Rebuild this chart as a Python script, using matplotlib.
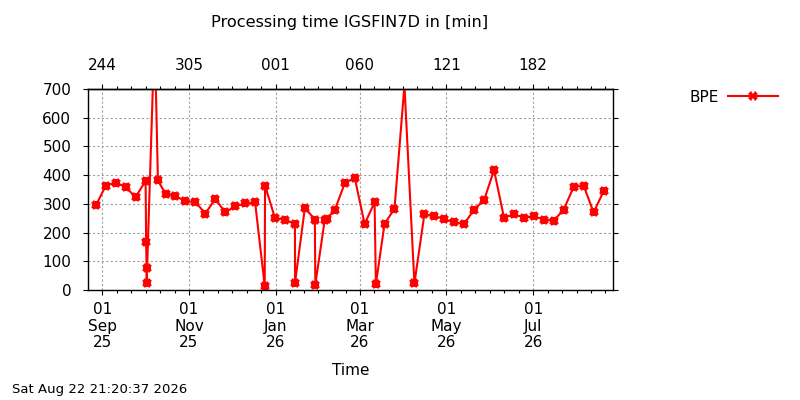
import matplotlib
matplotlib.use('Agg')
import matplotlib.pyplot as plt
import matplotlib.dates as mdates
from matplotlib.lines import Line2D
import numpy as np
import pandas as pd

plt.rcParams['font.family'] = ['DejaVu Sans']

# BPE processing time (minutes), weekly runs plus a few extra runs
times = ['2025-08-27 12:00', '2025-09-03 12:00', '2025-09-10 12:00', '2025-09-17 12:00',
         '2025-09-24 12:00', '2025-10-01 12:00', '2025-10-01 21:00', '2025-10-02 04:00',
         '2025-10-02 06:00', '2025-10-07 20:00', '2025-10-10 04:00', '2025-10-15 12:00',
         '2025-10-22 12:00', '2025-10-29 12:00', '2025-11-05 12:00', '2025-11-12 12:00',
         '2025-11-19 12:00', '2025-11-26 12:00', '2025-12-03 12:00', '2025-12-10 12:00',
         '2025-12-17 12:00', '2025-12-24 06:00', '2025-12-24 12:00', '2025-12-31 12:00',
         '2026-01-07 12:00', '2026-01-14 12:00', '2026-01-14 14:00', '2026-01-21 12:00',
         '2026-01-28 12:00', '2026-01-28 20:00', '2026-02-04 12:00', '2026-02-06 00:00',
         '2026-02-11 12:00', '2026-02-18 12:00', '2026-02-25 12:00', '2026-03-04 12:00',
         '2026-03-11 12:00', '2026-03-12 10:00', '2026-03-18 12:00', '2026-03-25 12:00',
         '2026-04-01 12:00', '2026-04-08 12:00', '2026-04-15 12:00', '2026-04-22 12:00',
         '2026-04-29 12:00', '2026-05-06 12:00', '2026-05-13 12:00', '2026-05-20 12:00',
         '2026-05-27 12:00', '2026-06-03 12:00', '2026-06-10 12:00', '2026-06-17 12:00',
         '2026-06-24 12:00', '2026-07-01 12:00', '2026-07-08 12:00', '2026-07-15 12:00',
         '2026-07-22 12:00', '2026-07-29 12:00', '2026-08-05 12:00', '2026-08-12 12:00',
         '2026-08-19 12:00']
bpe = [294, 363, 374, 358,
       323, 380, 166, 78,
       26, 900, 381, 335,
       327, 309, 306, 266,
       317, 270, 291, 301,
       305, 14, 363, 250,
       245, 229, 26, 286,
       245, 19, 245, 248,
       278, 371, 391, 230,
       305, 20, 230, 283,
       712, 23, 263, 257,
       247, 235, 230, 280,
       313, 417, 252, 263,
       252, 256, 245, 241,
       280, 359, 363, 270,
       343]

tick_dates = ['2025-09-01', '2025-11-01', '2026-01-01', '2026-03-01', '2026-05-01', '2026-07-01']
bottom_labels = ['01\nSep\n25', '01\nNov\n25', '01\nJan\n26', '01\nMar\n26', '01\nMay\n26', '01\nJul\n26']
top_labels = ['244', '305', '001', '060', '121', '182']
x_start, x_end = '2025-08-22', '2026-08-26'
stamp = 'Sat Aug 22 21:20:37 2026'

t = pd.to_datetime(times)
majors = mdates.date2num(pd.to_datetime(tick_dates))
minors = []
for a, b in zip(majors[:-1], majors[1:]):
    minors += list(a + (b - a) * np.arange(1, 6) / 6)
step = (majors[-1] - majors[-2]) / 6
minors += list(majors[-1] + step * np.arange(1, 6))

red = '#ff0000'
fig = plt.figure(figsize=(8, 4), dpi=100)
ax = fig.add_axes([0.110, 0.275, 0.656, 0.503])

ax.plot(t, bpe, color=red, lw=1.5)
# gnuplot-like "*" point: overlay of a filled X and a filled plus
ax.plot(t, bpe, ls='none', marker='X', ms=6.8, color=red, mew=0)
ax.plot(t, bpe, ls='none', marker='P', ms=5.6, color=red, mew=0)

ax.set_xlim(mdates.datestr2num(x_start), mdates.datestr2num(x_end))
ax.set_ylim(0, 700)
ax.set_yticks(range(0, 701, 100))
ax.set_xticks(majors, bottom_labels)
ax.set_xticks(minors, minor=True)
ax.grid(True, color='#a0a0a0', ls=(0, (2, 2)), lw=0.8)
ax.tick_params(axis='both', which='major', direction='out', length=3.5, width=0.8,
               labelsize=11)
ax.tick_params(axis='x', which='minor', direction='out', length=2, width=0.8)
ax.tick_params(axis='x', which='major', pad=5)
ax.tick_params(axis='y', which='major', pad=8.5, right=True)
for lab in ax.get_xticklabels():
    lab.set_linespacing(1.15)
for s in ax.spines.values():
    s.set_linewidth(1.0)

sec = ax.secondary_xaxis('top')
sec.set_xticks(majors, top_labels)
sec.set_xticks(minors, minor=True)
sec.tick_params(which='major', direction='out', length=3.5, width=0.8, labelsize=11, pad=8)
sec.tick_params(which='minor', direction='out', length=2, width=0.8)
sec.spines['top'].set_linewidth(1.0)

ax.set_xlabel('Time', fontsize=11, labelpad=9)
fig.text(0.4375, 0.943, 'Processing time IGSFIN7D in [min]', ha='center', va='center',
         fontsize=11.6)
fig.text(0.015, 0.025, stamp, ha='left', va='center', fontsize=9.5)

handle = Line2D([], [], color=red, lw=1.5, marker='X', ms=6.8, mew=0)
fig.legend([handle], ['BPE'], loc='upper right', bbox_to_anchor=(0.99, 0.81), frameon=False,
           markerfirst=False, handlelength=3.3, fontsize=11, handletextpad=0.6)

fig.savefig('out.png', dpi=100)
